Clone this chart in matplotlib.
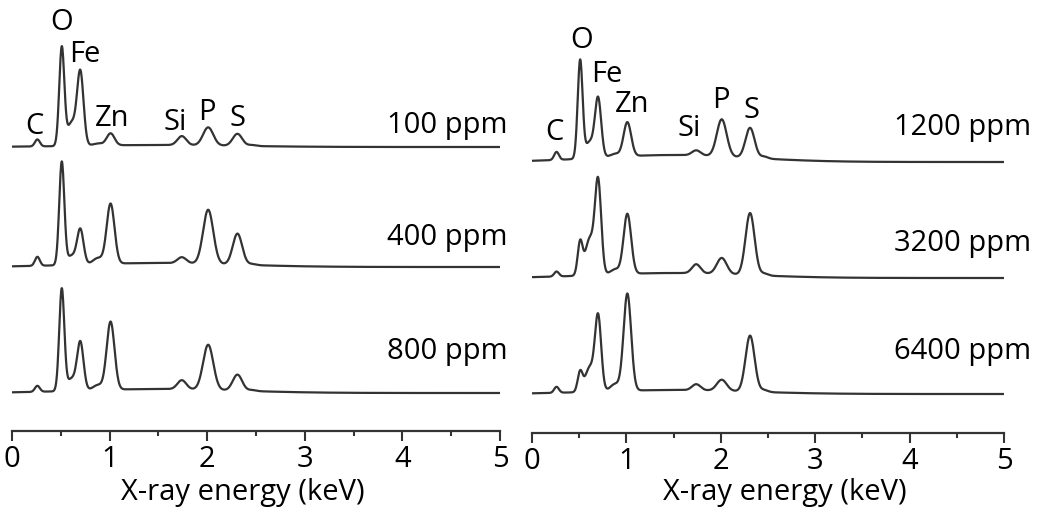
import numpy as np
import matplotlib
matplotlib.use("Agg")
import matplotlib.pyplot as plt

plt.rcParams['font.family'] = ['Open Sans', 'DejaVu Sans']

# peak table (keV)
elements = ["C", "O", "O/Fe", "Fe", "Zn-sh", "Zn", "Si", "P", "S", "S-tail"]
energies = [0.26, 0.51, 0.61, 0.70, 0.88, 1.01, 1.74, 2.01, 2.31, 2.46]
sigmas = [0.025, 0.026, 0.045, 0.033, 0.05, 0.04, 0.045, 0.052, 0.048, 0.04]

# peak heights for each concentration (same order as elements)
h_100 = [7, 98, 23, 73, 2, 12, 9, 18, 12, 1]
h_400 = [9, 103, 9, 35, 6, 60, 6, 54, 31, 1]
h_800 = [6, 102, 12, 48, 5, 68, 9, 45, 16, 1]
h_1200 = [8, 98, 16, 59, 3, 34, 5, 37, 30, 2]
h_3200 = [5, 33, 36, 93, 5, 60, 9, 16, 62, 2]
h_6400 = [6, 20, 24, 75, 7, 97, 6, 11, 56, 2]

# stacking offsets and bremsstrahlung hump height per trace
off_left = [284, 164, 38]
cont_left = [2, 4, 4]
off_right = [271, 155, 39]
cont_right = [7, 5, 4]

labels_left = ["100 ppm", "400 ppm", "800 ppm"]
labels_right = ["1200 ppm", "3200 ppm", "6400 ppm"]
lab_y_left = [306, 193, 79]
lab_y_right = [305, 190, 81]

# element label positions (keV, intensity units)
tag_names = ["C", "O", "Fe", "Zn", "Si", "P", "S"]
tag_x_left = [0.23, 0.51, 0.75, 1.03, 1.67, 2.0, 2.31]
tag_y_left = [304, 408, 376, 313, 308, 318, 313]
tag_x_right = [0.24, 0.52, 0.79, 1.06, 1.67, 2.0, 2.33]
tag_y_right = [300, 393, 358, 328, 305, 333, 323]

energy = np.linspace(0.0, 5.0, 1500)
line_col = "#333333"
fs = 21


def spectrum(heights, offset, cont):
    y = np.full_like(energy, float(offset))
    y += cont * np.exp(-0.5 * ((energy - 1.5) / 0.8) ** 2)
    for e, s, h in zip(energies, sigmas, heights):
        y += h * np.exp(-0.5 * ((energy - e) / s) ** 2)
    return y


def panel(ax, traces, offsets, conts, labels, lab_x, lab_y, tx, ty, ymax, xl_pos):
    for h, off, c in zip(traces, offsets, conts):
        ax.plot(energy, spectrum(h, off, c), color=line_col, lw=1.6)
    for lab, y in zip(labels, lab_y):
        ax.text(lab_x, y, lab, ha="right", va="center", fontsize=fs,
                clip_on=False)
    for name, x, y in zip(tag_names, tx, ty):
        ax.text(x, y, name, ha="center", va="center", fontsize=fs)
    ax.set_xlim(0, 5)
    ax.set_ylim(0, ymax)
    ax.set_xticks([0, 1, 2, 3, 4, 5])
    ax.set_xticks([0.5, 1.5, 2.5, 3.5, 4.5], minor=True)
    ax.tick_params(axis="x", which="major", length=7, width=1.5,
                   colors=line_col, labelsize=fs, labelcolor="black", pad=3)
    ax.tick_params(axis="x", which="minor", length=3.5, width=1.5, colors=line_col)
    ax.set_yticks([])
    for side in ["left", "right", "top"]:
        ax.spines[side].set_visible(False)
    ax.spines["bottom"].set_color(line_col)
    ax.spines["bottom"].set_linewidth(1.6)
    ax.set_xlabel("X-ray energy (keV)", fontsize=fs)
    ax.xaxis.set_label_coords(*xl_pos)


fig = plt.figure(figsize=(10.39, 5.14), dpi=100)
ax1 = fig.add_axes([12 / 1039, 83 / 514, 488 / 1039, 431 / 514])
ax2 = fig.add_axes([532 / 1039, 81 / 514, 472 / 1039, 433 / 514])

panel(ax1, [h_100, h_400, h_800], off_left, cont_left, labels_left,
      5.08, lab_y_left, tag_x_left, tag_y_left, 431, (0.472, -0.108))
panel(ax2, [h_1200, h_3200, h_6400], off_right, cont_right, labels_right,
      5.29, lab_y_right, tag_x_right, tag_y_right, 433, (0.536, -0.105))

fig.savefig("out.png", dpi=100)
